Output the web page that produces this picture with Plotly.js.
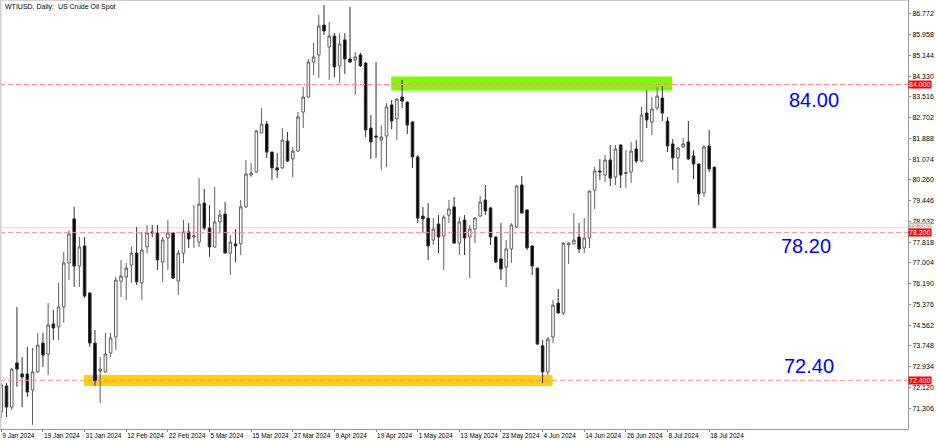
<!DOCTYPE html>
<html><head><meta charset="utf-8">
<script src="https://cdn.plot.ly/plotly-3.0.1.min.js"></script>
<style>html,body{margin:0;padding:0;background:#fff;overflow:hidden}#chart{width:936px;height:440px}</style>
</head><body><div id="chart"></div>
<script>
// trading days (categories)
const dates = [
"2024-01-09","2024-01-10","2024-01-11","2024-01-12","2024-01-15","2024-01-16","2024-01-17","2024-01-18","2024-01-19",
"2024-01-22","2024-01-23","2024-01-24","2024-01-25","2024-01-26","2024-01-29","2024-01-30","2024-01-31",
"2024-02-01","2024-02-02","2024-02-05","2024-02-06","2024-02-07","2024-02-08","2024-02-09","2024-02-12","2024-02-13","2024-02-14","2024-02-15","2024-02-16",
"2024-02-19","2024-02-20","2024-02-21","2024-02-22","2024-02-23","2024-02-26","2024-02-27","2024-02-28","2024-02-29",
"2024-03-01","2024-03-04","2024-03-05","2024-03-06","2024-03-07","2024-03-08","2024-03-11","2024-03-12","2024-03-13","2024-03-14","2024-03-15",
"2024-03-18","2024-03-19","2024-03-20","2024-03-21","2024-03-22","2024-03-25","2024-03-26","2024-03-27","2024-03-28",
"2024-04-01","2024-04-02","2024-04-03","2024-04-04","2024-04-05","2024-04-08","2024-04-09","2024-04-10","2024-04-11","2024-04-12",
"2024-04-15","2024-04-16","2024-04-17","2024-04-18","2024-04-19","2024-04-22","2024-04-23","2024-04-24","2024-04-25","2024-04-26","2024-04-29","2024-04-30",
"2024-05-01","2024-05-02","2024-05-03","2024-05-06","2024-05-07","2024-05-08","2024-05-09","2024-05-10","2024-05-13","2024-05-14","2024-05-15","2024-05-16","2024-05-17",
"2024-05-20","2024-05-21","2024-05-22","2024-05-23","2024-05-24","2024-05-27","2024-05-28","2024-05-29","2024-05-30","2024-05-31",
"2024-06-03","2024-06-04","2024-06-05","2024-06-06","2024-06-07","2024-06-10","2024-06-11","2024-06-12","2024-06-13","2024-06-14",
"2024-06-17","2024-06-18","2024-06-19","2024-06-20","2024-06-21","2024-06-24","2024-06-25","2024-06-26","2024-06-27","2024-06-28",
"2024-07-01","2024-07-02","2024-07-03","2024-07-04","2024-07-05","2024-07-08","2024-07-09","2024-07-10","2024-07-11","2024-07-12",
"2024-07-15","2024-07-16","2024-07-17","2024-07-18","2024-07-19"];

const open = [71.16,72.18,71.35,73.08,72.65,72.65,72.02,72.73,73.86,73.43,74.61,74.49,75.28,77.00,78.73,76.88,77.67,75.82,73.86,72.76,
72.73,73.47,74.10,76.29,76.45,76.92,77.39,76.22,77.63,78.22,78.18,77.04,77.98,78.18,76.29,77.39,78.22,78.02,77.82,79.35,
78.37,77.63,78.61,78.92,77.39,77.75,77.75,79.20,80.45,80.57,82.10,82.45,81.35,80.73,80.73,81.78,81.08,81.39,82.92,83.51,
84.88,85.16,86.33,85.47,85.90,84.73,85.75,85.00,84.96,85.16,84.84,82.29,81.98,81.82,81.98,83.20,82.65,83.51,83.31,82.53,
81.16,78.84,78.76,77.90,78.53,78.06,78.88,79.20,77.78,78.69,78.02,78.33,78.84,79.47,79.16,78.02,77.16,76.84,77.55,78.41,
80.06,79.08,77.67,76.80,73.75,72.73,74.10,75.43,75.04,77.71,77.75,78.02,77.59,77.98,79.86,80.61,80.45,81.04,80.37,81.63,
80.51,80.57,81.47,81.00,82.88,82.53,83.08,83.47,82.57,81.67,81.12,81.55,81.75,81.20,80.88,79.75,81.59,80.76];
const high = [72.29,72.29,72.88,75.28,73.31,73.71,73.67,74.26,74.26,75.43,75.16,76.22,77.43,78.29,79.20,78.02,78.02,75.86,74.37,73.31,
74.26,74.26,76.45,77.12,77.00,77.63,78.41,78.22,78.49,78.49,78.49,78.02,78.69,78.20,77.51,78.69,78.57,79.27,80.33,79.90,
79.27,79.98,79.08,79.39,78.10,78.33,79.47,81.04,80.92,82.22,83.08,82.57,81.37,81.31,82.29,82.14,81.55,82.92,83.90,85.00,
85.63,86.73,87.12,86.45,86.02,86.02,86.02,87.04,85.27,85.24,84.88,82.80,84.88,82.41,83.27,83.39,83.47,84.18,83.33,82.55,
81.24,79.20,79.35,78.76,78.88,78.88,79.47,79.59,78.80,78.88,78.49,78.80,79.63,80.06,79.20,78.04,78.57,77.90,78.57,80.06,
80.41,79.10,77.69,76.82,73.98,74.10,75.55,75.98,77.82,77.82,78.96,78.57,78.76,79.84,80.76,81.08,81.24,81.63,81.63,81.65,
81.43,81.75,81.82,83.12,83.78,83.51,83.90,83.94,82.73,81.86,81.55,81.90,82.57,81.43,80.90,81.63,82.22,80.78];
const low = [70.92,70.96,71.24,72.14,71.35,71.75,70.65,72.69,72.92,72.61,73.98,73.98,74.65,76.33,76.06,76.06,75.63,73.71,72.18,71.51,
72.69,73.31,73.59,75.67,75.55,76.22,76.14,75.55,77.39,78.02,76.73,76.26,76.73,76.37,75.75,77.00,77.59,77.59,77.63,78.29,
77.24,77.60,78.18,77.37,76.53,77.04,77.31,79.16,80.37,80.53,82.10,81.12,80.26,80.33,80.69,80.96,80.37,81.35,82.29,83.49,
84.37,84.26,85.94,84.18,84.29,84.06,84.41,84.86,83.59,84.69,81.94,81.08,81.12,80.65,80.76,82.25,81.82,83.08,82.06,80.73,
78.57,78.18,77.12,77.71,77.39,76.73,78.57,77.76,77.31,77.31,76.41,77.78,78.80,78.88,77.71,77.00,76.33,76.06,77.00,78.37,
78.94,77.51,76.53,73.80,72.29,72.61,73.86,75.02,74.96,76.96,77.71,77.39,77.39,77.59,79.12,80.26,80.18,80.02,80.06,79.94,
79.94,80.14,80.92,80.96,82.29,82.02,83.00,82.57,81.35,80.65,80.14,81.51,81.04,80.29,79.27,79.59,80.57,78.36];
const close = [72.22,71.35,72.84,72.84,72.53,71.94,72.73,73.78,73.39,74.57,74.45,75.28,77.00,78.14,76.88,77.63,75.71,73.86,72.39,72.84,
73.43,74.06,76.33,76.49,76.80,77.39,76.26,77.51,78.18,78.18,77.12,77.90,78.18,76.41,77.39,78.22,77.94,78.06,79.31,78.37,
77.63,78.61,78.88,77.39,77.82,77.67,79.20,80.49,80.53,82.18,82.45,81.35,80.73,80.65,81.82,81.00,81.39,82.73,83.51,84.88,
85.08,86.29,86.10,85.90,84.69,85.59,85.00,84.88,85.08,84.73,82.22,81.75,81.94,81.94,83.12,82.57,83.43,83.35,82.41,81.16,
78.76,78.73,77.67,78.33,78.02,78.80,79.12,77.78,78.61,77.98,78.33,78.76,79.39,79.04,78.02,77.04,76.76,77.55,78.49,80.02,
78.96,77.59,76.88,73.82,72.73,74.02,75.35,75.04,77.78,77.78,77.90,77.55,77.98,79.82,80.61,80.57,81.04,80.33,81.47,80.45,
80.55,81.39,81.00,82.80,82.61,83.04,83.55,82.88,81.59,81.12,81.51,81.67,81.08,80.88,79.71,81.55,80.69,78.38];

const tickDates = ["2024-01-09","2024-01-19","2024-01-31","2024-02-12","2024-02-22","2024-03-05","2024-03-15","2024-03-27","2024-04-09",
"2024-04-19","2024-05-01","2024-05-13","2024-05-23","2024-06-04","2024-06-14","2024-06-26","2024-07-08","2024-07-18"];
const tickLabels = ["9 Jan 2024","19 Jan 2024","31 Jan 2024","12 Feb 2024","22 Feb 2024","5 Mar 2024","15 Mar 2024","27 Mar 2024","9 Apr 2024",
"19 Apr 2024","1 May 2024","13 May 2024","23 May 2024","4 Jun 2024","14 Jun 2024","26 Jun 2024","8 Jul 2024","18 Jul 2024"];
const priceTicks = [86.772,85.958,85.144,84.330,83.516,82.702,81.888,81.074,80.260,79.446,78.632,77.818,77.004,76.190,75.376,74.562,73.748,72.934,72.120,71.306];

const levels = [84.00, 78.20, 72.40];
const levelText = ["84.00", "78.20", "72.40"];
// zones: [startIndex, endIndex, lowPrice, highPrice]
const greenZone = [74.9, 128.9, 83.76, 84.31];
const yellowZone = [15.9, 105.9, 72.18, 72.61];
const touchBar = 18;

const BODY = 0.30;

const shapes = [];
shapes.push({type:'rect', xref:'x', yref:'y', x0:greenZone[0], x1:greenZone[1], y0:greenZone[2], y1:greenZone[3], fillcolor:'#7cfc00', line:{width:0}, layer:'below'});
shapes.push({type:'rect', xref:'x', yref:'y', x0:yellowZone[0], x1:yellowZone[1], y0:yellowZone[2], y1:yellowZone[3], fillcolor:'#ffd200', line:{width:0}, layer:'below'});
shapes.push({type:'line', xref:'paper', yref:'y', x0:0, x1:1, y0:close[close.length-1], y1:close[close.length-1], line:{color:'#dcdcdc', width:1}, layer:'below'});
levels.forEach(l => shapes.push({type:'line', xref:'paper', yref:'y', x0:0, x1:1, y0:l, y1:l, line:{color:'#ff8c8c', width:1, dash:'5px,3px'}, layer:'above'}));
shapes.push({type:'rect', xref:'x', yref:'y', x0:touchBar-BODY, x1:touchBar+BODY, y0:close[touchBar], y1:yellowZone[3], fillcolor:'#0000ff', line:{width:0}, layer:'above'});
// frame
shapes.push({type:'line', xref:'paper', yref:'paper', x0:0, x1:1, y0:1, y1:1, line:{color:'#d0d0d0', width:2}});
shapes.push({type:'line', xref:'paper', yref:'paper', x0:0, x1:0, y0:0, y1:1, line:{color:'#d0d0d0', width:3}});

const ann = [];
ann.push({xref:'paper', yref:'paper', x:0, y:1, xanchor:'left', yanchor:'top', xshift:3, yshift:-1, showarrow:false,
  text:'WTIUSD, Daily:  US Crude Oil Spot', font:{family:'Liberation Sans, Arial, sans-serif', size:7, color:'#000'}});
const textPos = [[151.0, 83.39], [149.5, 77.67], [150.0, 72.96]];
levels.forEach((l, k) => ann.push({xref:'x', yref:'y', x:textPos[k][0], y:textPos[k][1], xanchor:'left', yanchor:'middle', showarrow:false,
  text:levelText[k], font:{family:'Liberation Sans, Arial, sans-serif', size:20, color:'#0000ff'}}));
ann.push({xref:'paper', yref:'y', x:1, y:close[close.length-1], xanchor:'left', yanchor:'middle', showarrow:false, xshift:0, yshift:1,
  text:close[close.length-1].toFixed(3), bgcolor:'#c0c0c0', borderpad:0, font:{family:'Liberation Sans, Arial, sans-serif', size:7, color:'#fff'}});
levels.forEach(l => ann.push({xref:'paper', yref:'y', x:1, y:l, xanchor:'left', yanchor:'middle', showarrow:false,
  text:l.toFixed(3), bgcolor:'#ff0000', borderpad:0, font:{family:'Liberation Sans, Arial, sans-serif', size:7, color:'#fff'}}));

const trace = {
  type:'candlestick', x:dates, open:open, high:high, low:low, close:close,
  increasing:{line:{color:'#606060', width:1}, fillcolor:'#ffffff'},
  decreasing:{line:{color:'#303030', width:1}, fillcolor:'#000000'},
  whiskerwidth:0, hoverinfo:'skip'
};

const layout = {
  width:936, height:440, margin:{l:0, r:28, t:0, b:11},
  paper_bgcolor:'#fff', plot_bgcolor:'#fff', showlegend:false,
  font:{family:'Liberation Sans, Arial, sans-serif', size:7, color:'#000'},
  xaxis:{type:'category', range:[-0.25, 174.2], tickmode:'array', tickvals:tickDates, ticktext:tickLabels,
    ticks:'outside', ticklen:2, tickcolor:'#888', showline:true, linecolor:'#9a9a9a', linewidth:1, tickangle:0,
    showgrid:false, zeroline:false, ticklabelposition:'outside right', tickfont:{size:6.5}, ticklabelstandoff:0,
    rangeslider:{visible:false}, fixedrange:true},
  yaxis:{side:'right', range:[70.49, 87.314], tickmode:'array', tickvals:priceTicks, ticktext:priceTicks.map(v=>v.toFixed(3)),
    ticks:'outside', ticklen:2, tickcolor:'#888', showline:true, linecolor:'#9a9a9a', linewidth:1,
    showgrid:false, zeroline:false, tickfont:{size:7}, fixedrange:true},
  shapes:shapes, annotations:ann
};
Plotly.newPlot('chart', [trace], layout, {staticPlot:true, displayModeBar:false});
</script></body></html>
